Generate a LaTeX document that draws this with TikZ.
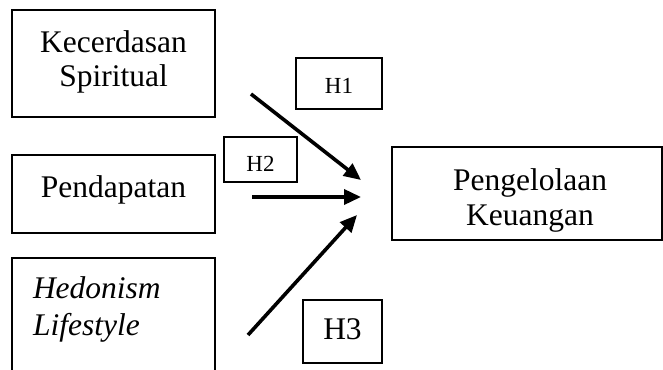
\documentclass[tikz,border=0pt]{standalone}
\usepackage{fontspec}
\setmainfont{Liberation Serif}
\usetikzlibrary{arrows.meta}
\newcommand{\tpad}[1]{\rule{0pt}{#1}}
\newcommand{\bpad}[1]{\rule[-#1]{0pt}{#1}}
\begin{document}
\begin{tikzpicture}[x=1pt,y=-1pt,
  box/.style={draw, line width=2pt, inner sep=0pt, align=center, font=\fontsize{31.5}{34}\selectfont},
  hbox/.style={draw, line width=1.6pt, inner sep=0pt, align=center, font=\fontsize{23}{26}\selectfont},
  link/.style={line width=3.6pt, -{Triangle[length=17pt,width=15pt]}}]
\useasboundingbox (0,0) rectangle (663,369);
\clip (0,0) rectangle (663,369);
\fill[white] (0,0) rectangle (663,369);
% variable boxes
\node[box, minimum width=203pt, minimum height=107pt] (ks) at (113.5,63.5)
  {\tpad{25pt}Kecerdasan\\Spiritual\bpad{14pt}};
\node[box, minimum width=203pt, minimum height=78pt] (pd) at (113.5,194)
  {\tpad{25pt}Pendapatan\bpad{19pt}};
\node[box, font=\fontsize{31.5}{37}\selectfont\itshape, text width=161pt, inner xsep=21pt,
  align=left, minimum height=142pt] (hl) at (113.5,329)
  {\tpad{25pt}Hedonism\\Lifestyle\bpad{50pt}};
\node[box, font=\fontsize{31.5}{35}\selectfont, minimum width=270pt, minimum height=93pt] (pk) at (527,193.5)
  {\tpad{36pt}\hspace*{6pt}Pengelolaan\\\hspace*{6pt}Keuangan\bpad{8pt}};
% hypothesis labels
\node[hbox, minimum width=86pt, minimum height=51pt] (h1) at (339,83.5) {\tpad{22pt}H1\bpad{3pt}};
\node[hbox, minimum width=73pt, minimum height=45pt] (h2) at (260.5,159.5) {\tpad{25pt}H2\bpad{2pt}};
\node[hbox, font=\fontsize{31.5}{34}\selectfont, minimum width=79pt, minimum height=63pt] (h3) at (342.5,331.5)
  {\tpad{25pt}H3\bpad{10pt}};
% arrows
\coordinate (a1s) at (251,94);
\coordinate (a1e) at (361,180);
\coordinate (a2s) at (252,197);
\coordinate (a2e) at (361,197);
\coordinate (a3s) at (248,335);
\coordinate (a3e) at (357,215);
\draw[link] (a1s) -- (a1e);
\draw[link] (a2s) -- (a2e);
\draw[link] (a3s) -- (a3e);
\end{tikzpicture}
\end{document}
